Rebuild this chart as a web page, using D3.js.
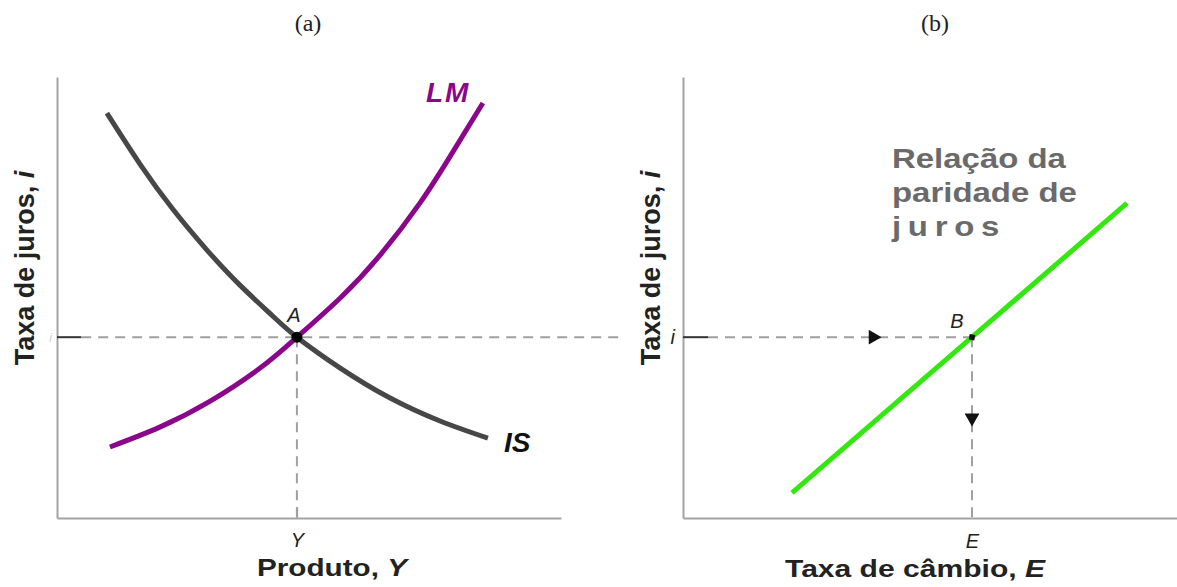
<!DOCTYPE html>
<html>
<head>
<meta charset="utf-8">
<script src="https://cdn.jsdelivr.net/npm/d3@7"></script>
<style>
  body { margin: 0; background: #fff; }
  text { font-family: "Liberation Sans", Arial, sans-serif; }
</style>
</head>
<body>
<div id="chart"></div>
<script>
// IS and LM curves (output Y, interest rate i), in chart units 0..10
const isCurve = [
  [0.99, 9.18], [1.65, 8.02], [2.30, 7.00], [2.98, 6.07], [3.63, 5.28], [4.29, 4.57],
  [4.76, 4.10], [5.62, 3.40], [6.61, 2.72], [7.60, 2.20], [8.55, 1.81]
];
const lmCurve = [
  [1.05, 1.61], [2.04, 2.06], [3.04, 2.65], [4.03, 3.40], [4.76, 4.10],
  [5.62, 4.99], [6.41, 5.96], [7.20, 7.14], [7.80, 8.20], [8.45, 9.41]
];
// interest parity line (exchange rate E, interest rate i)
const parityLine = [[2.18, 0.57], [5.78, 4.10], [8.88, 7.14]];

// equilibrium points
const pointA = [4.76, 4.10];
const pointB = [5.78, 4.10];
const arrowRightE = 3.8;   // where the arrow sits on the i line
const arrowDownI = 2.27;   // where the arrow sits on the E line
const dashEndLeft = 11.2;  // left dashed line runs past the axis end

const titles = ["(a)", "(b)"];
const parityText = ["Relação da", "paridade de", "juros"];

const W = 1177, H = 587;
const svg = d3.select("#chart").append("svg")
    .attr("width", W)
    .attr("height", H);

const leftX = d3.scaleLinear().domain([0, 10]).range([57, 561]);
const rightX = d3.scaleLinear().domain([0, 10]).range([683, 1183]);
const rateY = d3.scaleLinear().domain([0, 10]).range([518, 77]);

const axisColor = "#a3a3a3";
const dashColor = "#a0a0a0";

// panel titles
svg.selectAll(".title")
  .data(titles)
  .enter().append("text")
    .attr("x", (d, i) => i === 0 ? 308 : 935)
    .attr("y", 31)
    .attr("text-anchor", "middle")
    .style("font-family", "'Liberation Serif', serif")
    .style("font-size", "24px")
    .attr("fill", "#222")
    .text(d => d);

function styleAxis(g) {
  g.select(".domain").attr("stroke", axisColor).attr("stroke-width", 2);
  g.selectAll(".tick line").attr("stroke", axisColor).attr("stroke-width", 1.5);
  g.selectAll(".tick text")
    .style("font-size", "20px")
    .style("font-style", "italic")
    .attr("fill", "#222");
}

// ---------- panel (a) ----------
svg.append("g")
    .attr("transform", `translate(0,${rateY(0)})`)
    .call(d3.axisBottom(leftX).tickValues([pointA[0]]).tickFormat(() => "Y")
      .tickSizeInner(-11).tickSizeOuter(0).tickPadding(15))
    .call(styleAxis);

svg.append("g")
    .attr("transform", `translate(${leftX(0)},0)`)
    .call(d3.axisLeft(rateY).tickValues([pointA[1]]).tickFormat(() => "i")
      .tickSizeInner(0).tickSizeOuter(0).tickPadding(5))
    .call(styleAxis)
    .call(g => g.selectAll(".tick text").attr("fill", "#ccc").style("font-size", "12px"));

// solid stub of the i line, then dashes
svg.append("line")
    .attr("x1", leftX(0)).attr("x2", leftX(0.48))
    .attr("y1", rateY(pointA[1])).attr("y2", rateY(pointA[1]))
    .attr("stroke", "#333").attr("stroke-width", 2);
svg.append("line")
    .attr("x1", leftX(0.48)).attr("x2", leftX(dashEndLeft))
    .attr("y1", rateY(pointA[1])).attr("y2", rateY(pointA[1]))
    .attr("stroke", dashColor).attr("stroke-width", 2)
    .attr("stroke-dasharray", "10,7");
svg.append("line")
    .attr("x1", leftX(pointA[0])).attr("x2", leftX(pointA[0]))
    .attr("y1", rateY(pointA[1])).attr("y2", rateY(0))
    .attr("stroke", dashColor).attr("stroke-width", 2)
    .attr("stroke-dasharray", "10,7");

const leftLine = d3.line()
    .x(d => leftX(d[0]))
    .y(d => rateY(d[1]))
    .curve(d3.curveNatural);

svg.append("path")
    .datum(isCurve)
    .attr("fill", "none")
    .attr("stroke", "#474747")
    .attr("stroke-width", 5)
    .attr("d", leftLine);

svg.append("path")
    .datum(lmCurve)
    .attr("fill", "none")
    .attr("stroke", "#8a068a")
    .attr("stroke-width", 5)
    .attr("d", leftLine);

svg.append("circle")
    .attr("cx", leftX(pointA[0]))
    .attr("cy", rateY(pointA[1]))
    .attr("r", 5.5)
    .attr("fill", "#000");

svg.append("text")
    .attr("x", leftX(pointA[0]) - 3)
    .attr("y", rateY(pointA[1]) - 15)
    .attr("text-anchor", "middle")
    .style("font-size", "20px")
    .style("font-style", "italic")
    .attr("fill", "#222")
    .text("A");

svg.append("text")
    .attr("x", 426).attr("y", 102)
    .style("font-size", "28px")
    .style("font-style", "italic")
    .style("font-weight", "bold")
    .style("letter-spacing", "2px")
    .attr("fill", "#8a068a")
    .text("LM");

svg.append("text")
    .attr("x", 504).attr("y", 452)
    .style("font-size", "28px")
    .style("font-style", "italic")
    .style("font-weight", "bold")
    .attr("fill", "#111")
    .text("IS");

// axis titles
svg.append("text")
    .attr("x", 257).attr("y", 576)
    .style("font-size", "24px")
    .style("font-weight", "bold")
    .attr("textLength", 150)
    .attr("lengthAdjust", "spacingAndGlyphs")
    .attr("fill", "#222")
    .text("Produto, ")
  .append("tspan")
    .style("font-style", "italic")
    .text("Y");

function yTitle(cx) {
  svg.append("text")
      .attr("transform", `translate(${cx},268) rotate(-90)`)
      .attr("text-anchor", "middle")
      .style("font-size", "27px")
      .style("font-weight", "bold")
      .attr("fill", "#222")
      .text("Taxa de juros, ")
    .append("tspan")
      .style("font-style", "italic")
      .text("i");
}
yTitle(34);

// ---------- panel (b) ----------
svg.append("g")
    .attr("transform", `translate(0,${rateY(0)})`)
    .call(d3.axisBottom(rightX).tickValues([pointB[0]]).tickFormat(() => "E")
      .tickSizeInner(0).tickSizeOuter(0).tickPadding(16))
    .call(styleAxis);

svg.append("g")
    .attr("transform", `translate(${rightX(0)},0)`)
    .call(d3.axisLeft(rateY).tickValues([pointB[1]]).tickFormat(() => "i")
      .tickSizeInner(0).tickSizeOuter(0).tickPadding(8))
    .call(styleAxis);

svg.append("line")
    .attr("x1", rightX(0)).attr("x2", rightX(0.5))
    .attr("y1", rateY(pointB[1])).attr("y2", rateY(pointB[1]))
    .attr("stroke", "#333").attr("stroke-width", 2);
svg.append("line")
    .attr("x1", rightX(0.5)).attr("x2", rightX(pointB[0]))
    .attr("y1", rateY(pointB[1])).attr("y2", rateY(pointB[1]))
    .attr("stroke", dashColor).attr("stroke-width", 2)
    .attr("stroke-dasharray", "10,7");
svg.append("line")
    .attr("x1", rightX(pointB[0])).attr("x2", rightX(pointB[0]))
    .attr("y1", rateY(pointB[1])).attr("y2", rateY(0))
    .attr("stroke", dashColor).attr("stroke-width", 2)
    .attr("stroke-dasharray", "10,7");

svg.append("path")
    .datum(parityLine)
    .attr("fill", "none")
    .attr("stroke", "#33e80f")
    .attr("stroke-width", 5)
    .attr("d", d3.line().x(d => rightX(d[0])).y(d => rateY(d[1])));

svg.append("path")
    .attr("d", d3.symbol(d3.symbolSquare, 32)())
    .attr("transform", `translate(${rightX(pointB[0])},${rateY(pointB[1])}) rotate(10)`)
    .attr("fill", "#111");

const tri = d3.symbol(d3.symbolTriangle, 95)();
svg.append("path")
    .attr("d", tri)
    .attr("transform", `translate(${rightX(arrowRightE)},${rateY(pointB[1])}) rotate(90)`)
    .attr("fill", "#111");
svg.append("path")
    .attr("d", tri)
    .attr("transform", `translate(${rightX(pointB[0])},${rateY(arrowDownI)}) rotate(180)`)
    .attr("fill", "#111");

svg.append("text")
    .attr("x", rightX(pointB[0]) - 15)
    .attr("y", rateY(pointB[1]) - 9)
    .attr("text-anchor", "middle")
    .style("font-size", "20px")
    .style("font-style", "italic")
    .attr("fill", "#222")
    .text("B");

// parity label, stretched sideways like the rest of the figure
svg.append("g")
    .attr("transform", "translate(892,0) scale(1.22,1)")
  .selectAll("text")
  .data(parityText)
  .enter().append("text")
    .attr("x", 0)
    .attr("y", (d, i) => 168 + i * 34)
    .style("font-size", "27px")
    .style("font-weight", "bold")
    .style("letter-spacing", (d, i) => i === 2 ? "5.5px" : "0px")
    .attr("fill", "#6a6a6a")
    .text(d => d);

svg.append("text")
    .attr("x", 785).attr("y", 577)
    .style("font-size", "24px")
    .style("font-weight", "bold")
    .attr("textLength", 260)
    .attr("lengthAdjust", "spacingAndGlyphs")
    .attr("fill", "#222")
    .text("Taxa de câmbio, ")
  .append("tspan")
    .style("font-style", "italic")
    .text("E");

yTitle(660);
</script>
</body>
</html>
